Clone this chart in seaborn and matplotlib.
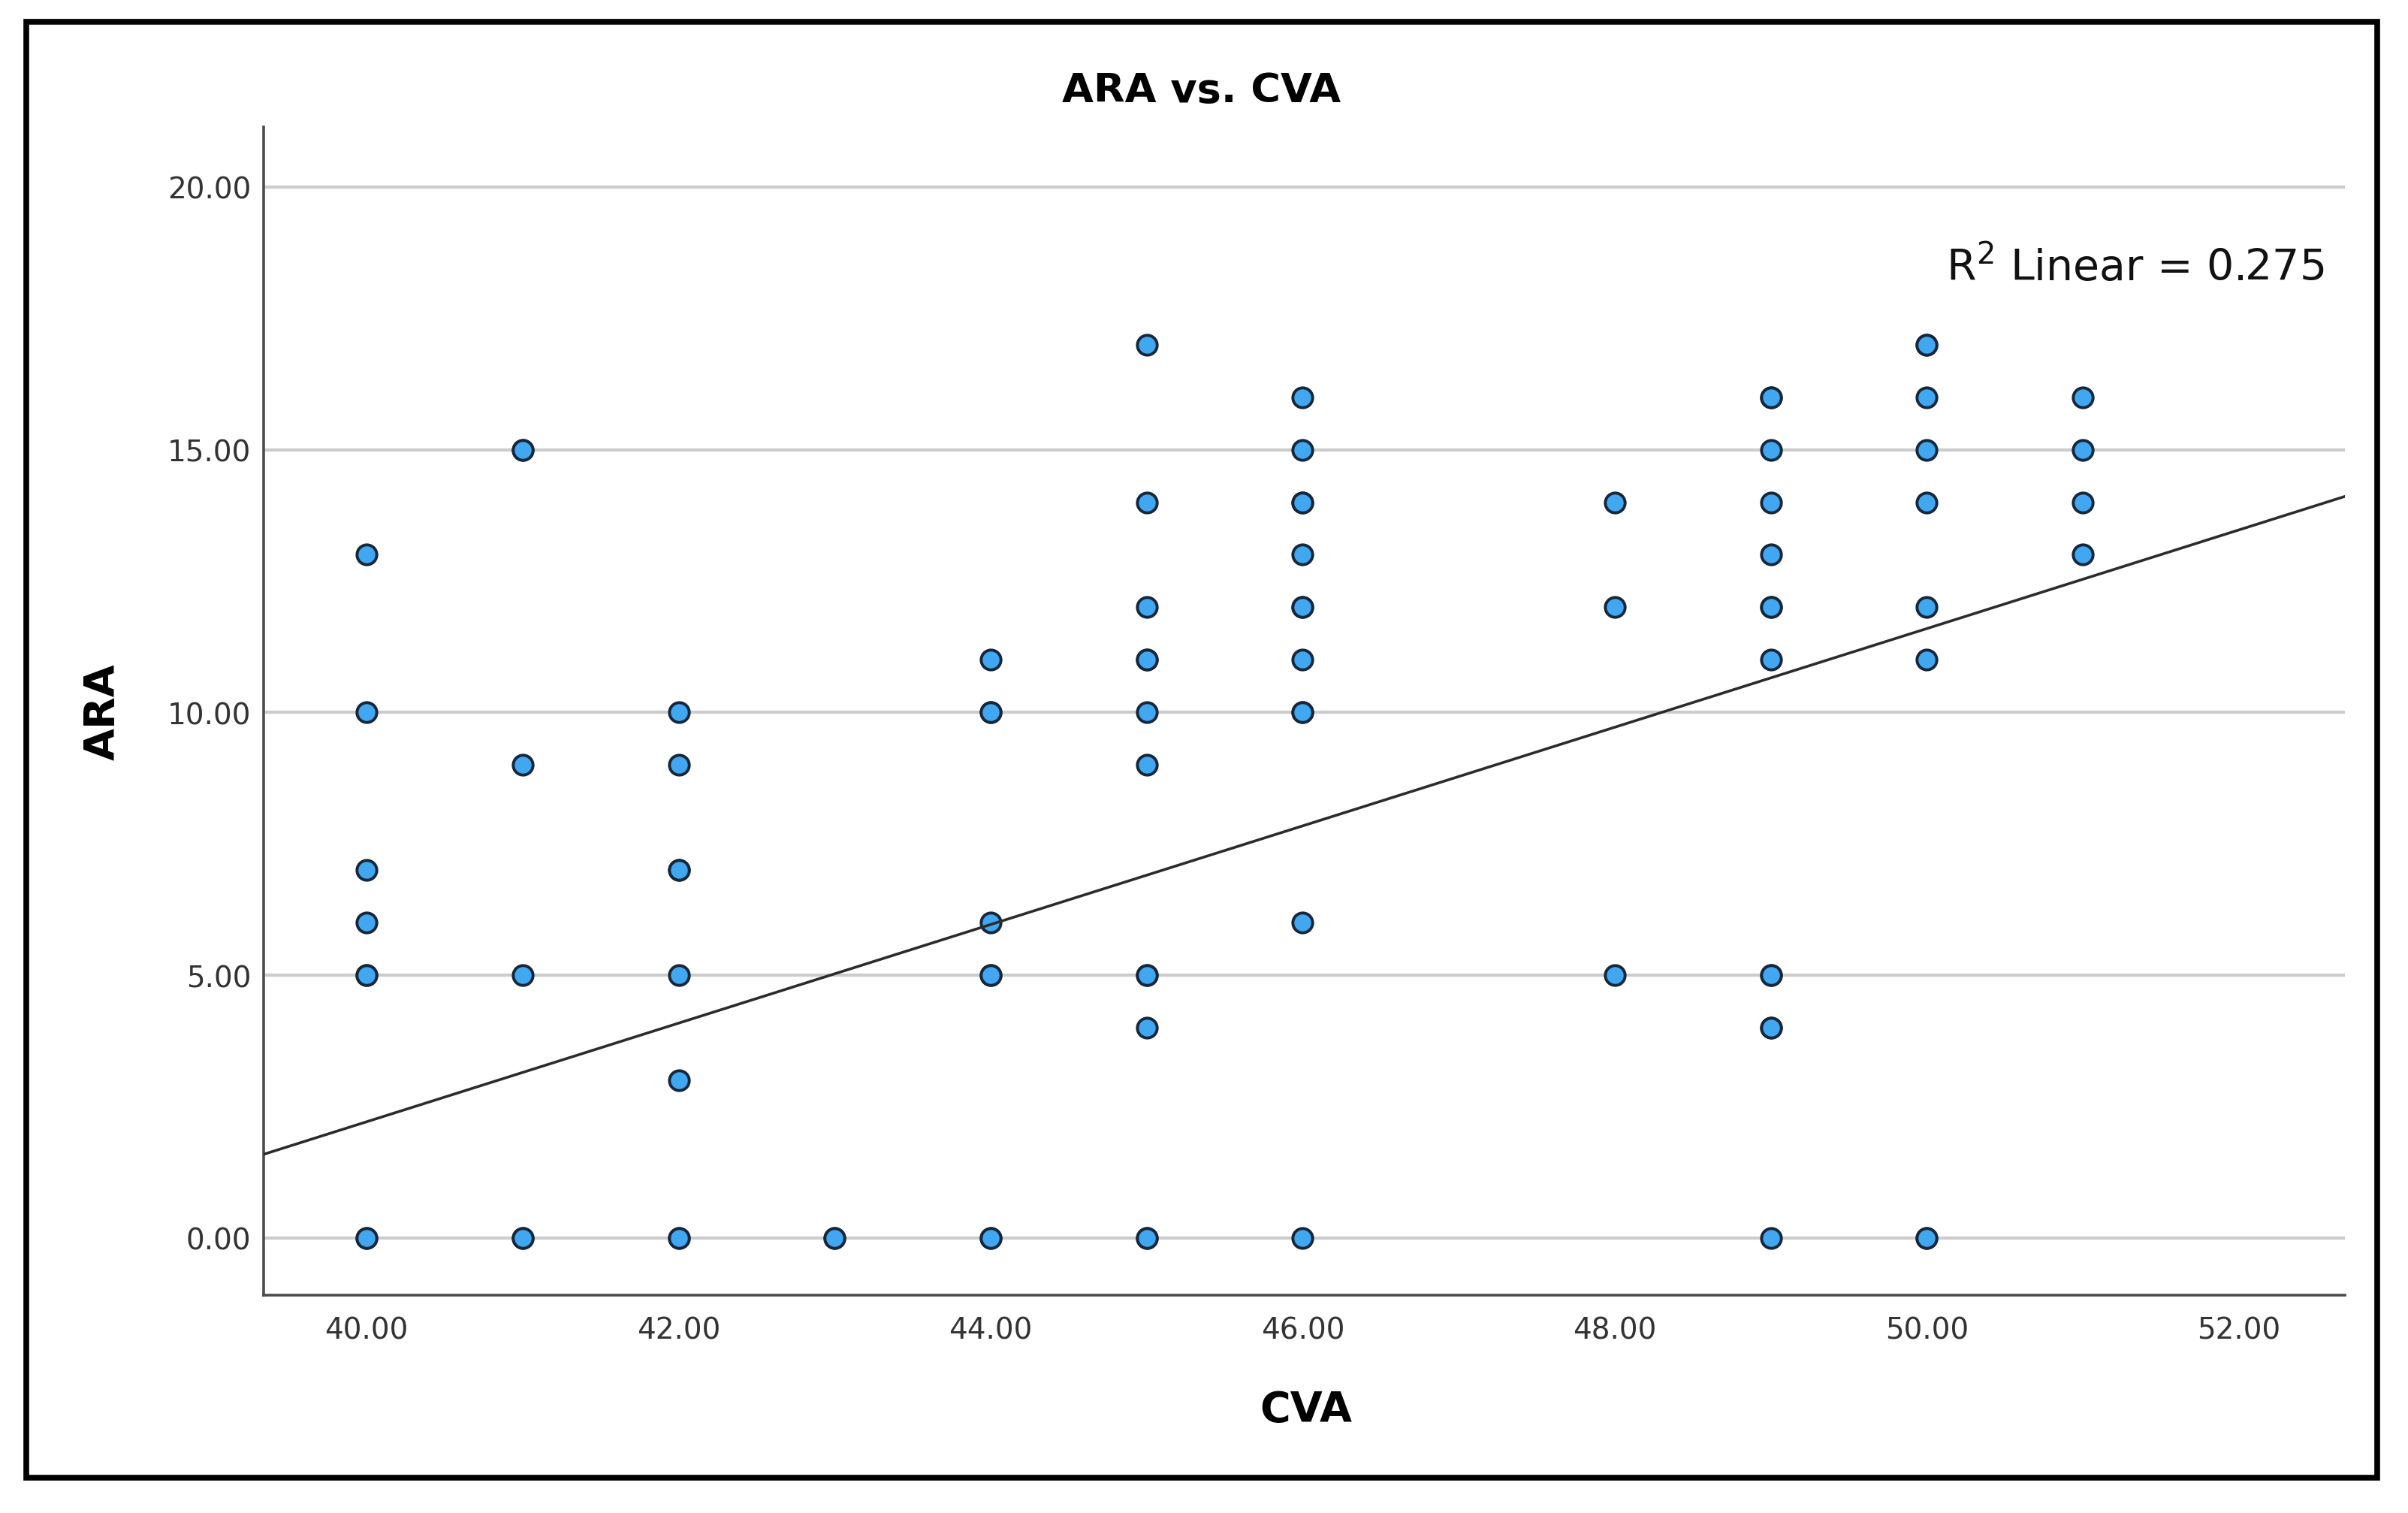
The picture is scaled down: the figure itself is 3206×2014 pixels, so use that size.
import numpy as np
import pandas as pd
import matplotlib.pyplot as plt
import seaborn as sns
from matplotlib.patches import Rectangle

# values (repeats = overlapping cases, darker rims)
cva = [40, 40, 40, 40, 40, 40, 40, 40,
       41, 41, 41, 41, 41, 41,
       42, 42, 42, 42, 42, 42, 42, 42,
       43, 43,
       44, 44, 44, 44, 44, 44, 44, 44,
       45, 45, 45, 45, 45, 45, 45, 45, 45, 45, 45, 45,
       46, 46, 46, 46, 46, 46, 46, 46, 46, 46, 46, 46,
       48, 48, 48,
       49, 49, 49, 49, 49, 49, 49, 49, 49, 49, 49, 49, 49,
       50, 50, 50, 50, 50, 50, 50, 50, 50,
       51, 51, 51, 51]
ara = [13, 10, 7, 6, 5, 5, 0, 0,
       15, 15, 9, 5, 0, 0,
       10, 9, 7, 7, 5, 3, 0, 0,
       0, 0,
       11, 10, 10, 6, 5, 5, 0, 0,
       17, 14, 12, 11, 11, 10, 9, 5, 5, 4, 0, 0,
       16, 15, 14, 14, 13, 12, 12, 11, 10, 10, 6, 0,
       14, 12, 5,
       16, 16, 15, 14, 13, 12, 12, 11, 5, 5, 4, 4, 0,
       17, 17, 16, 15, 14, 12, 11, 0, 0,
       16, 15, 14, 13]

# fit line as drawn in the chart
fit_slope = 0.9385
fit_intercept = -35.33
r2_text = "R$^2$ Linear = 0.275"

x_ticks = [40, 42, 44, 46, 48, 50, 52]
y_ticks = [0, 5, 10, 15, 20]

df = pd.DataFrame({"CVA": cva, "ARA": ara})

sns.set_style("white")
plt.rcParams['font.family'] = ['DejaVu Sans']

fig = plt.figure(figsize=(32.06, 20.15), dpi=100)
ax = fig.add_axes([0.1095, 0.1439, 0.8643, 0.7717])

ax.set_xlim(39.34, 52.68)
ax.set_ylim(-1.09, 21.14)
ax.set_yticks(y_ticks)
ax.set_xticks(x_ticks)
ax.set_yticklabels([f"{v:.2f}" for v in y_ticks])
ax.set_xticklabels([f"{v:.2f}" for v in x_ticks])

ax.grid(axis="y", color="#cccccc", linewidth=3)
ax.set_axisbelow(True)

sns.scatterplot(
    data=df,
    x="CVA",
    y="ARA",
    s=360,
    color="#41a7f0",
    edgecolor="#15273a",
    linewidth=2.8,
    ax=ax,
    zorder=3
)

ax.axline((0, fit_intercept), slope=fit_slope, color="#2b2b2b", linewidth=2.6, zorder=4)

for side in ["top", "right"]:
    ax.spines[side].set_visible(False)
for side in ["left", "bottom"]:
    ax.spines[side].set_color("#4d4d4d")
    ax.spines[side].set_linewidth(2.6)

ax.tick_params(axis="x", length=0, pad=20, labelsize=28, labelcolor="#333333")
ax.tick_params(axis="y", length=0, pad=12, labelsize=28, labelcolor="#333333")

ax.set_xlabel("CVA", fontsize=40, fontweight="bold", color="black")
ax.set_ylabel("ARA", fontsize=40, fontweight="bold", color="black")
ax.xaxis.label.set_va("center")
ax.yaxis.label.set_va("center")
ax.xaxis.set_label_coords(0.5009, -0.098)
ax.yaxis.set_label_coords(-0.0772, 0.4997)

ax.text(0.990, 0.8797, r2_text, transform=ax.transAxes, ha="right", va="center",
        fontsize=41, color="#111111")

fig.text(0.4988, 0.940, "ARA vs. CVA", ha="center", va="center",
         fontsize=39, fontweight="bold", color="black")

fig.patches.append(Rectangle((0.0109, 0.0233), 0.9763, 0.9618, transform=fig.transFigure,
                             fill=False, edgecolor="black", linewidth=5.5))

plt.savefig("out.png", dpi=100)
